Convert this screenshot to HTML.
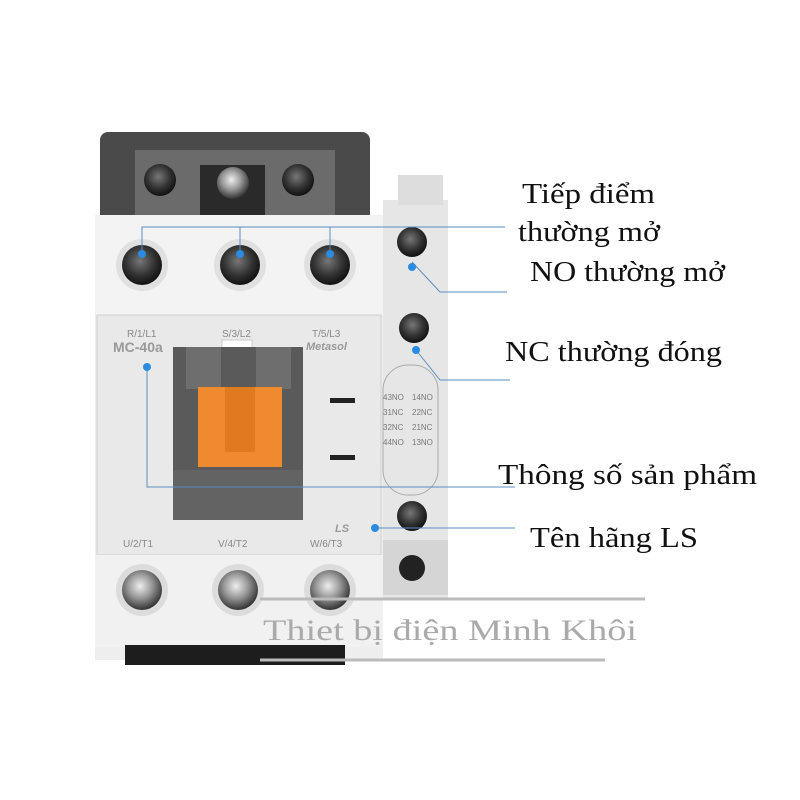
<!DOCTYPE html>
<html><head><meta charset="utf-8"><style>
html,body{margin:0;padding:0;background:#fff;}
svg{display:block}
text{font-family:"Liberation Serif",serif;}
</style></head><body>
<svg width="800" height="800" viewBox="0 0 800 800" xmlns="http://www.w3.org/2000/svg">
<defs>
<radialGradient id="scr" cx="45%" cy="40%" r="60%"><stop offset="0" stop-color="#777"/><stop offset="0.6" stop-color="#333"/><stop offset="1" stop-color="#111"/></radialGradient>
<radialGradient id="scr2" cx="45%" cy="40%" r="60%"><stop offset="0" stop-color="#eee"/><stop offset="0.5" stop-color="#999"/><stop offset="1" stop-color="#333"/></radialGradient>
</defs>
<rect width="800" height="800" fill="#fff"/>
<rect x="100" y="132" width="270" height="90" rx="8" fill="#4a4a4a"/>
<rect x="135" y="150" width="200" height="72" fill="#6b6b6b"/>
<rect x="200" y="165" width="65" height="57" fill="#2a2a2a"/>
<circle cx="160" cy="180" r="16" fill="url(#scr)"/>
<circle cx="233" cy="183" r="16" fill="url(#scr2)"/>
<circle cx="298" cy="180" r="16" fill="url(#scr)"/>
<rect x="95" y="215" width="288" height="445" fill="#eeeeee"/>
<rect x="95" y="215" width="288" height="100" fill="#f3f3f3"/>
<rect x="97" y="315" width="284" height="240" fill="#e9e9e9" stroke="#d0d0d0"/>
<rect x="95" y="555" width="288" height="92" fill="#f1f1f1"/>
<rect x="125" y="645" width="220" height="20" fill="#1d1d1d"/>
<circle cx="142" cy="265" r="26" fill="#e0e0e0"/><circle cx="142" cy="265" r="20" fill="url(#scr)"/>
<circle cx="240" cy="265" r="26" fill="#e0e0e0"/><circle cx="240" cy="265" r="20" fill="url(#scr)"/>
<circle cx="330" cy="265" r="26" fill="#e0e0e0"/><circle cx="330" cy="265" r="20" fill="url(#scr)"/>
<circle cx="142" cy="590" r="26" fill="#dcdcdc"/><circle cx="142" cy="590" r="20" fill="url(#scr2)"/>
<circle cx="238" cy="590" r="26" fill="#dcdcdc"/><circle cx="238" cy="590" r="20" fill="url(#scr2)"/>
<circle cx="330" cy="590" r="26" fill="#dcdcdc"/><circle cx="330" cy="590" r="20" fill="url(#scr2)"/>
<g fill="#888" font-size="10">
<text x="127" y="337" style="font-family:Liberation Sans,sans-serif">R/1/L1</text>
<text x="222" y="337" style="font-family:Liberation Sans,sans-serif">S/3/L2</text>
<text x="312" y="337" style="font-family:Liberation Sans,sans-serif">T/5/L3</text>
<text x="123" y="547" style="font-family:Liberation Sans,sans-serif">U/2/T1</text>
<text x="218" y="547" style="font-family:Liberation Sans,sans-serif">V/4/T2</text>
<text x="310" y="547" style="font-family:Liberation Sans,sans-serif">W/6/T3</text>
</g>
<text x="113" y="352" font-size="14" font-weight="bold" fill="#999" style="font-family:Liberation Sans,sans-serif">MC-40a</text>
<text x="306" y="350" font-size="11" font-weight="bold" font-style="italic" fill="#999" style="font-family:Liberation Sans,sans-serif">Metasol</text>
<text x="335" y="532" font-size="11" font-weight="bold" font-style="italic" fill="#999" style="font-family:Liberation Sans,sans-serif">LS</text>
<rect x="222" y="340" width="30" height="33" fill="#fff" stroke="#ccc"/>
<rect x="173" y="347" width="130" height="173" fill="#5a5a5a"/>
<rect x="186" y="347" width="35" height="42" fill="#6e6e6e"/>
<rect x="256" y="347" width="35" height="42" fill="#6e6e6e"/>
<rect x="198" y="387" width="84" height="80" fill="#f08a30"/>
<rect x="225" y="387" width="30" height="65" fill="#e07a20"/>
<rect x="173" y="470" width="130" height="50" fill="#636363"/>
<rect x="330" y="398" width="25" height="5" fill="#222"/>
<rect x="330" y="455" width="25" height="5" fill="#222"/>
<rect x="383" y="200" width="65" height="400" fill="#e6e6e6"/>
<rect x="398" y="175" width="45" height="30" fill="#ddd"/>
<rect x="383" y="540" width="65" height="55" fill="#d5d5d5"/>
<rect x="383" y="365" width="55" height="130" rx="25" fill="none" stroke="#aaa"/>
<g font-size="8" fill="#777">
<text x="383" y="400" style="font-family:Liberation Sans,sans-serif">43NO</text>
<text x="383" y="415" style="font-family:Liberation Sans,sans-serif">31NC</text>
<text x="383" y="430" style="font-family:Liberation Sans,sans-serif">32NC</text>
<text x="383" y="445" style="font-family:Liberation Sans,sans-serif">44NO</text>
<text x="412" y="400" style="font-family:Liberation Sans,sans-serif">14NO</text>
<text x="412" y="415" style="font-family:Liberation Sans,sans-serif">22NC</text>
<text x="412" y="430" style="font-family:Liberation Sans,sans-serif">21NC</text>
<text x="412" y="445" style="font-family:Liberation Sans,sans-serif">13NO</text>
</g>
<circle cx="412" cy="242" r="15" fill="url(#scr)"/>
<circle cx="414" cy="328" r="15" fill="url(#scr)"/>
<circle cx="412" cy="516" r="15" fill="url(#scr)"/>
<circle cx="412" cy="568" r="13" fill="#222"/>
<g stroke="#5b8ec0" stroke-width="1" fill="none">
<polyline points="142,254 142,227 505,227"/>
<line x1="240" y1="227" x2="240" y2="254"/>
<line x1="330" y1="227" x2="330" y2="254"/>
<polyline points="412,262 440,292 507,292"/>
<polyline points="416,350 440,380 510,380"/>
<polyline points="147,367 147,487 515,487"/>
<line x1="375" y1="528" x2="515" y2="528"/>
</g>
<g fill="#2a8be0">
<circle cx="142" cy="254" r="4"/><circle cx="240" cy="254" r="4"/><circle cx="330" cy="254" r="4"/>
<circle cx="412" cy="267" r="4"/><circle cx="416" cy="350" r="4"/><circle cx="147" cy="367" r="4"/><circle cx="375" cy="528" r="4"/>
</g>
<g font-size="28" fill="#111">
<text x="522" y="203" textLength="133" lengthAdjust="spacingAndGlyphs">Tiếp điểm</text>
<text x="518" y="241" textLength="142" lengthAdjust="spacingAndGlyphs">thường mở</text>
<text x="530" y="281" textLength="195" lengthAdjust="spacingAndGlyphs">NO thường mở</text>
<text x="505" y="361" textLength="217" lengthAdjust="spacingAndGlyphs">NC thường đóng</text>
<text x="498" y="484" textLength="259" lengthAdjust="spacingAndGlyphs">Thông số sản phẩm</text>
<text x="530" y="547" textLength="168" lengthAdjust="spacingAndGlyphs">Tên hãng LS</text>
</g>
<line x1="260" y1="599" x2="645" y2="599" stroke="#bbb" stroke-width="3"/>
<text x="263" y="640" font-size="30" fill="#aaa" textLength="374" lengthAdjust="spacingAndGlyphs">Thiet bị điện Minh Khôi</text>
<line x1="260" y1="660" x2="605" y2="660" stroke="#bbb" stroke-width="3"/>
</svg>
</body></html>
